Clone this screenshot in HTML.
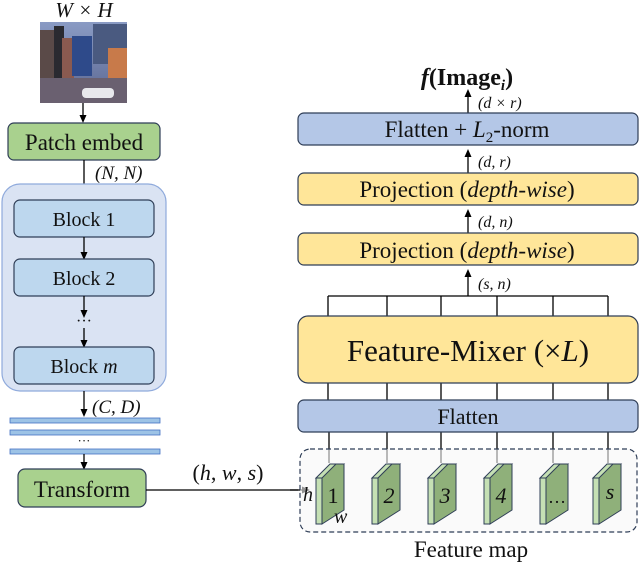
<!DOCTYPE html>
<html><head><meta charset="utf-8"><style>
html,body{margin:0;padding:0;background:#fff;}
svg text{font-family:"Liberation Serif",serif;fill:#111;}
</style></head><body>
<svg width="640" height="565" viewBox="0 0 640 565" xmlns="http://www.w3.org/2000/svg">
<defs>
<marker id="a" markerWidth="8" markerHeight="8" refX="4" refY="4" orient="auto" markerUnits="userSpaceOnUse"><path d="M0,0.5 L8,4 L0,7.5 z" fill="#000"/></marker>
<linearGradient id="sky" x1="0" y1="0" x2="0" y2="1"><stop offset="0" stop-color="#8a9bc4"/><stop offset="1" stop-color="#5a6690"/></linearGradient>
</defs>
<text x="84" y="17" font-size="21" font-style="italic" text-anchor="middle">W × H</text>
<rect x="40" y="22" width="87" height="81" fill="url(#sky)"/>
<rect x="40" y="30" width="15" height="55" fill="#5a4a48"/>
<rect x="54" y="26" width="10" height="58" fill="#2a2a30"/>
<rect x="62" y="38" width="12" height="44" fill="#8a5a50"/>
<rect x="72" y="36" width="20" height="40" fill="#2e4a8a"/>
<rect x="93" y="24" width="34" height="40" fill="#4a5a80"/>
<rect x="108" y="48" width="19" height="30" fill="#c87a4a"/>
<rect x="40" y="78" width="87" height="25" fill="#6a6070"/>
<rect x="82" y="88" width="32" height="10" rx="4" fill="#e8e8ec"/>
<line x1="83" y1="103" x2="83" y2="119" stroke="#000" stroke-width="1.3" marker-end="url(#a)"/>
<rect x="8" y="123" width="152" height="37" rx="6" fill="#a9d18e" stroke="#2f3e57" stroke-width="1.2"/>
<text x="84" y="150" font-size="23" text-anchor="middle">Patch embed</text>
<line x1="84" y1="160" x2="84" y2="196" stroke="#000" stroke-width="1.3" marker-end="url(#a)"/>
<text x="95" y="179" font-size="19" font-style="italic">(N, N)</text>
<rect x="2" y="184" width="164" height="207" rx="18" fill="#dae3f3" stroke="#8faadc" stroke-width="1.2"/>
<rect x="14" y="200" width="140" height="37" rx="6" fill="#bdd7ee" stroke="#2f3e57" stroke-width="1.2"/>
<text x="84" y="226" font-size="20" text-anchor="middle">Block 1</text>
<line x1="84" y1="237" x2="84" y2="256" stroke="#000" stroke-width="1.3" marker-end="url(#a)"/>
<rect x="14" y="259" width="140" height="37" rx="6" fill="#bdd7ee" stroke="#2f3e57" stroke-width="1.2"/>
<text x="84" y="285" font-size="20" text-anchor="middle">Block 2</text>
<line x1="84" y1="296" x2="84" y2="314" stroke="#000" stroke-width="1.3" marker-end="url(#a)"/>
<text x="84" y="326" font-size="16" text-anchor="middle">···</text>
<line x1="84" y1="328" x2="84" y2="344" stroke="#000" stroke-width="1.3" marker-end="url(#a)"/>
<rect x="14" y="347" width="140" height="37" rx="6" fill="#bdd7ee" stroke="#2f3e57" stroke-width="1.2"/>
<text x="84" y="373" font-size="20" text-anchor="middle">Block <tspan font-style="italic">m</tspan></text>
<line x1="84" y1="391" x2="84" y2="413" stroke="#000" stroke-width="1.3" marker-end="url(#a)"/>
<text x="92" y="413" font-size="19" font-style="italic">(C, D)</text>
<rect x="10" y="418" width="150" height="5" fill="#9dc3e6" stroke="#4472c4" stroke-width="0.8"/>
<rect x="10" y="430" width="150" height="5" fill="#9dc3e6" stroke="#4472c4" stroke-width="0.8"/>
<text x="84" y="445" font-size="13" text-anchor="middle">···</text>
<rect x="10" y="449" width="150" height="5" fill="#9dc3e6" stroke="#4472c4" stroke-width="0.8"/>
<line x1="84" y1="454" x2="84" y2="466" stroke="#000" stroke-width="1.3" marker-end="url(#a)"/>
<rect x="18" y="469" width="128" height="38" rx="7" fill="#a9d18e" stroke="#2f3e57" stroke-width="1.2"/>
<text x="82" y="497" font-size="23" text-anchor="middle">Transform</text>
<line x1="146" y1="490" x2="298" y2="490" stroke="#000" stroke-width="1.3"/>
<line x1="290" y1="490" x2="306" y2="490" stroke="#000" stroke-width="1.3" marker-end="url(#a)"/>
<text x="228" y="480" font-size="22" text-anchor="middle">(<tspan font-style="italic">h</tspan>, <tspan font-style="italic">w</tspan>, <tspan font-style="italic">s</tspan>)</text>
<text x="467" y="85" font-size="24" font-weight="bold" text-anchor="middle"><tspan font-style="italic">f</tspan>(Image<tspan font-size="15" font-style="italic" dy="5">i</tspan><tspan dy="-5">)</tspan></text>
<line x1="468" y1="113" x2="468" y2="93" stroke="#000" stroke-width="1.3" marker-end="url(#a)"/>
<text x="478" y="108" font-size="16" font-style="italic">(d × r)</text>
<rect x="298" y="113" width="340" height="32" rx="6" fill="#b4c7e7" stroke="#2f3e57" stroke-width="1.2"/>
<text x="467" y="137" font-size="23" text-anchor="middle">Flatten + <tspan font-style="italic">L</tspan><tspan font-size="15" dy="5">2</tspan><tspan dy="-5">-norm</tspan></text>
<line x1="468" y1="173" x2="468" y2="153" stroke="#000" stroke-width="1.3" marker-end="url(#a)"/>
<text x="478" y="167" font-size="16" font-style="italic">(d, r)</text>
<rect x="298" y="173" width="340" height="32" rx="6" fill="#ffe699" stroke="#2f3e57" stroke-width="1.2"/>
<text x="467" y="197" font-size="23" text-anchor="middle">Projection (<tspan font-style="italic">depth-wise</tspan>)</text>
<line x1="468" y1="233" x2="468" y2="213" stroke="#000" stroke-width="1.3" marker-end="url(#a)"/>
<text x="478" y="227" font-size="16" font-style="italic">(d, n)</text>
<rect x="298" y="233" width="340" height="32" rx="6" fill="#ffe699" stroke="#2f3e57" stroke-width="1.2"/>
<text x="467" y="258" font-size="23" text-anchor="middle">Projection (<tspan font-style="italic">depth-wise</tspan>)</text>
<line x1="468" y1="296" x2="468" y2="273" stroke="#000" stroke-width="1.3" marker-end="url(#a)"/>
<text x="478" y="289" font-size="16" font-style="italic">(s, n)</text>
<g stroke="#000" stroke-width="1.3">
<line x1="328" y1="296" x2="608" y2="296"/>
<line x1="328" y1="296" x2="328" y2="316"/><line x1="387" y1="296" x2="387" y2="316"/><line x1="441" y1="296" x2="441" y2="316"/><line x1="497" y1="296" x2="497" y2="316"/><line x1="553" y1="296" x2="553" y2="316"/><line x1="608" y1="296" x2="608" y2="316"/>
<line x1="328" y1="383" x2="328" y2="400"/><line x1="387" y1="383" x2="387" y2="400"/><line x1="441" y1="383" x2="441" y2="400"/><line x1="497" y1="383" x2="497" y2="400"/><line x1="553" y1="383" x2="553" y2="400"/><line x1="608" y1="383" x2="608" y2="400"/>
<line x1="329" y1="432" x2="329" y2="463"/><line x1="387" y1="432" x2="387" y2="463"/><line x1="441" y1="432" x2="441" y2="463"/><line x1="497" y1="432" x2="497" y2="463"/><line x1="553" y1="432" x2="553" y2="463"/><line x1="608" y1="432" x2="608" y2="463"/>
</g>
<rect x="298" y="316" width="340" height="67" rx="10" fill="#ffe699" stroke="#2f3e57" stroke-width="1.2"/>
<text x="468" y="361" font-size="31" text-anchor="middle">Feature-Mixer (×<tspan font-style="italic">L</tspan>)</text>
<rect x="298" y="400" width="340" height="32" rx="6" fill="#b4c7e7" stroke="#2f3e57" stroke-width="1.2"/>
<text x="468" y="424" font-size="22" text-anchor="middle">Flatten</text>
<rect x="300" y="449" width="337" height="83" rx="10" fill="#f7f7f7" fill-opacity="0.6" stroke="#2f3e57" stroke-width="1.2" stroke-dasharray="5,3"/>
<g stroke="#2f3e57" stroke-width="1">
<polygon points="316,478 330,464 344,464 330,478" fill="#c5e0b4"/><rect x="316" y="478" width="6" height="46" fill="#c5e0b4"/><polygon points="322,478 336,464 344,464 344,510 322,524" fill="#8fb07a"/>
<polygon points="372,478 386,464 400,464 386,478" fill="#c5e0b4"/><rect x="372" y="478" width="6" height="46" fill="#c5e0b4"/><polygon points="378,478 392,464 400,464 400,510 378,524" fill="#8fb07a"/>
<polygon points="428,478 442,464 456,464 442,478" fill="#c5e0b4"/><rect x="428" y="478" width="6" height="46" fill="#c5e0b4"/><polygon points="434,478 448,464 456,464 456,510 434,524" fill="#8fb07a"/>
<polygon points="484,478 498,464 512,464 498,478" fill="#c5e0b4"/><rect x="484" y="478" width="6" height="46" fill="#c5e0b4"/><polygon points="490,478 504,464 512,464 512,510 490,524" fill="#8fb07a"/>
<polygon points="540,478 554,464 568,464 554,478" fill="#c5e0b4"/><rect x="540" y="478" width="6" height="46" fill="#c5e0b4"/><polygon points="546,478 560,464 568,464 568,510 546,524" fill="#8fb07a"/>
<polygon points="593,478 607,464 621,464 607,478" fill="#c5e0b4"/><rect x="593" y="478" width="6" height="46" fill="#c5e0b4"/><polygon points="599,478 613,464 621,464 621,510 599,524" fill="#8fb07a"/>
</g>
<text x="333" y="503" font-size="22" text-anchor="middle">1</text>
<text x="389" y="503" font-size="22" font-style="italic" text-anchor="middle">2</text>
<text x="445" y="503" font-size="22" font-style="italic" text-anchor="middle">3</text>
<text x="501" y="503" font-size="22" font-style="italic" text-anchor="middle">4</text>
<text x="557" y="503" font-size="18" text-anchor="middle">…</text>
<text x="610" y="499" font-size="22" font-style="italic" text-anchor="middle">s</text>
<text x="303" y="501" font-size="20" font-style="italic">h</text>
<text x="334" y="523" font-size="20" font-style="italic">w</text>
<text x="471" y="557" font-size="23" text-anchor="middle">Feature map</text>
</svg>
</body></html>
